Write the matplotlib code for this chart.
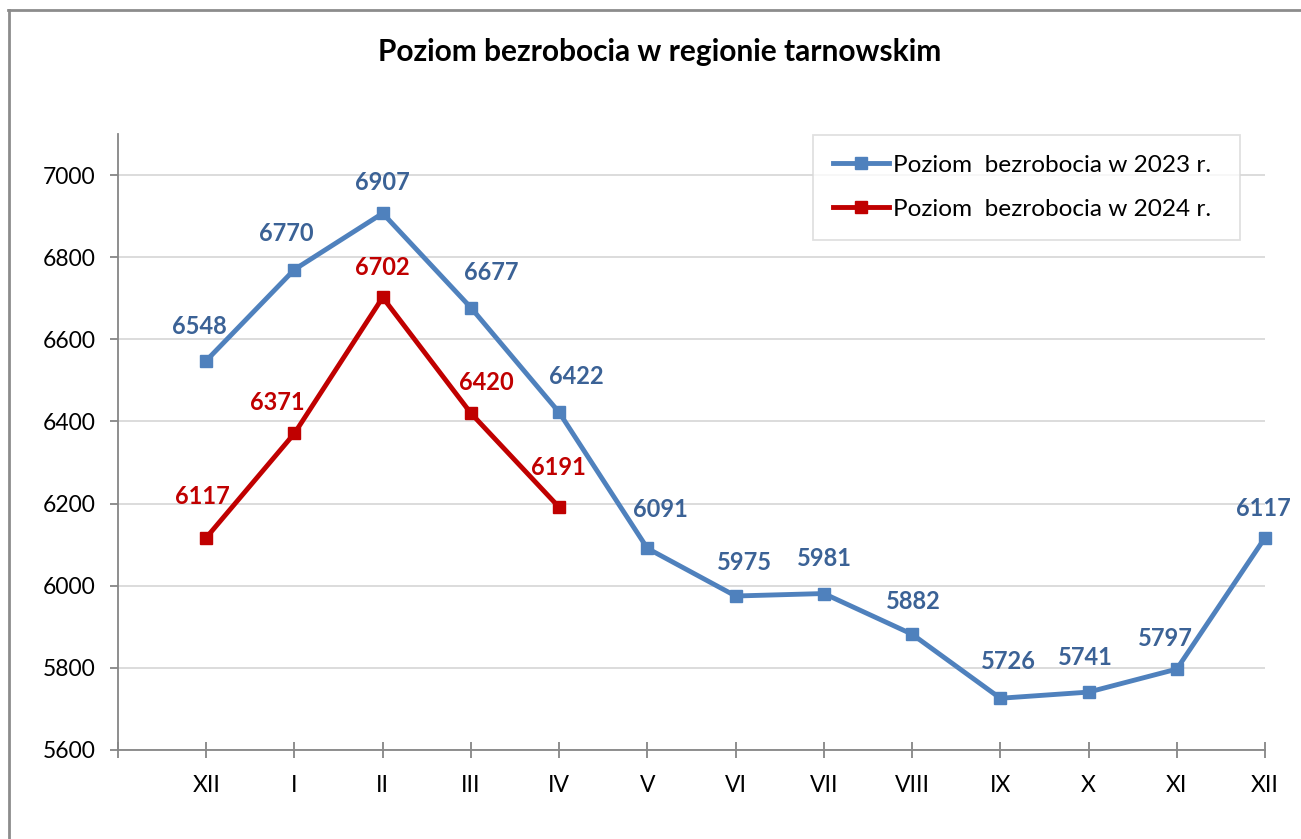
import matplotlib
matplotlib.use("Agg")
import matplotlib.pyplot as plt
from matplotlib.lines import Line2D

months = ["XII", "I", "II", "III", "IV", "V", "VI", "VII", "VIII", "IX", "X", "XI", "XII"]
values_2023 = [6548, 6770, 6907, 6677, 6422, 6091, 5975, 5981, 5882, 5726, 5741, 5797, 6117]
values_2024 = [6117, 6371, 6702, 6420, 6191]
yticks = [5600, 5800, 6000, 6200, 6400, 6600, 6800, 7000]
title = "Poziom bezrobocia w regionie tarnowskim"
legend_labels = ["Poziom  bezrobocia w 2023 r.", "Poziom  bezrobocia w 2024 r."]

plt.rcParams['font.family'] = ['Lato', 'DejaVu Sans']

BLUE = "#4F81BD"
BLUE_LBL = "#3B6296"
RED = "#C00000"
GRID = "#D9D9D9"
AX = "#868686"

fig = plt.figure(figsize=(13.01, 8.39), dpi=100)
ax = fig.add_axes([118/1301, 1-750/839, (1265-118)/1301, (750-134)/839])

x23 = list(range(len(values_2023)))
x24 = list(range(len(values_2024)))
ax.plot(x23, values_2023, color=BLUE, lw=3.5, marker='s', ms=9, zorder=3,
        label=legend_labels[0], solid_joinstyle='round', clip_on=False)
ax.plot(x24, values_2024, color=RED, lw=3.5, marker='s', ms=9, zorder=4,
        label=legend_labels[1], solid_joinstyle='round', clip_on=False)

ax.set_xlim(-1, len(months) - 1)
ax.set_ylim(5600, 7100)
ax.set_yticks(yticks)
ax.set_yticklabels([str(v) for v in yticks])
ax.set_xticks(list(range(-1, len(months))))
ax.set_xticklabels([""] + months)

ax.grid(axis='y', color=GRID, lw=1.3, zorder=0)
ax.set_axisbelow(True)
for s in ['top', 'right']:
    ax.spines[s].set_visible(False)
for s in ['left', 'bottom']:
    ax.spines[s].set_color(AX)
    ax.spines[s].set_linewidth(1.3)
ax.tick_params(axis='y', direction='out', length=6, width=1.3, color=AX,
               labelsize=16.5, pad=10)
ax.tick_params(axis='x', direction='inout', length=12, width=1.3, color=AX,
               labelsize=16.5, pad=12)

# data label offsets (pixels)
off23 = [(-7, 34), (-8, 36), (0, 31), (20, 35), (17, 36), (13, 39), (9, 34),
         (1, 35), (1, 33), (8, 37), (-3, 35), (-11, 31), (-2, 29)]
off24 = [(-4, 41), (-17, 31), (0, 30), (15, 31), (-1, 40)]
for x, v, o in zip(x23, values_2023, off23):
    ax.annotate(str(v), (x, v), xytext=o, textcoords='offset pixels',
                ha='center', va='center', fontsize=17, fontweight='bold',
                color=BLUE_LBL, zorder=5)
for x, v, o in zip(x24, values_2024, off24):
    ax.annotate(str(v), (x, v), xytext=o, textcoords='offset pixels',
                ha='center', va='center', fontsize=17, fontweight='bold',
                color=RED, zorder=5)

handles = [Line2D([], [], color=BLUE, lw=3.5, marker='s', ms=9),
           Line2D([], [], color=RED, lw=3.5, marker='s', ms=9)]
leg = fig.legend(handles, legend_labels, loc='upper left', mode='expand',
                 bbox_to_anchor=(813/1301, 1-238/839, 427/1301, 103/839),
                 fontsize=17.6, frameon=True, fancybox=False, handlelength=2.3,
                 handletextpad=0.17, labelspacing=0.95, borderpad=0.8,
                 borderaxespad=0)
leg.get_frame().set_edgecolor(GRID)
leg.get_frame().set_linewidth(1.3)

fig.text(660/1301, 1-52/839, title, ha='center', va='center',
         fontsize=21.5, fontweight='bold', color='black')

# outer chart border (top and left visible)
fig.add_artist(Line2D([8/1301, 1], [1-10/839, 1-10/839], color='#8C8C8C', lw=2))
fig.add_artist(Line2D([9/1301, 9/1301], [0, 1-10/839], color='#8C8C8C', lw=2))

fig.savefig("out.png", dpi=100)
